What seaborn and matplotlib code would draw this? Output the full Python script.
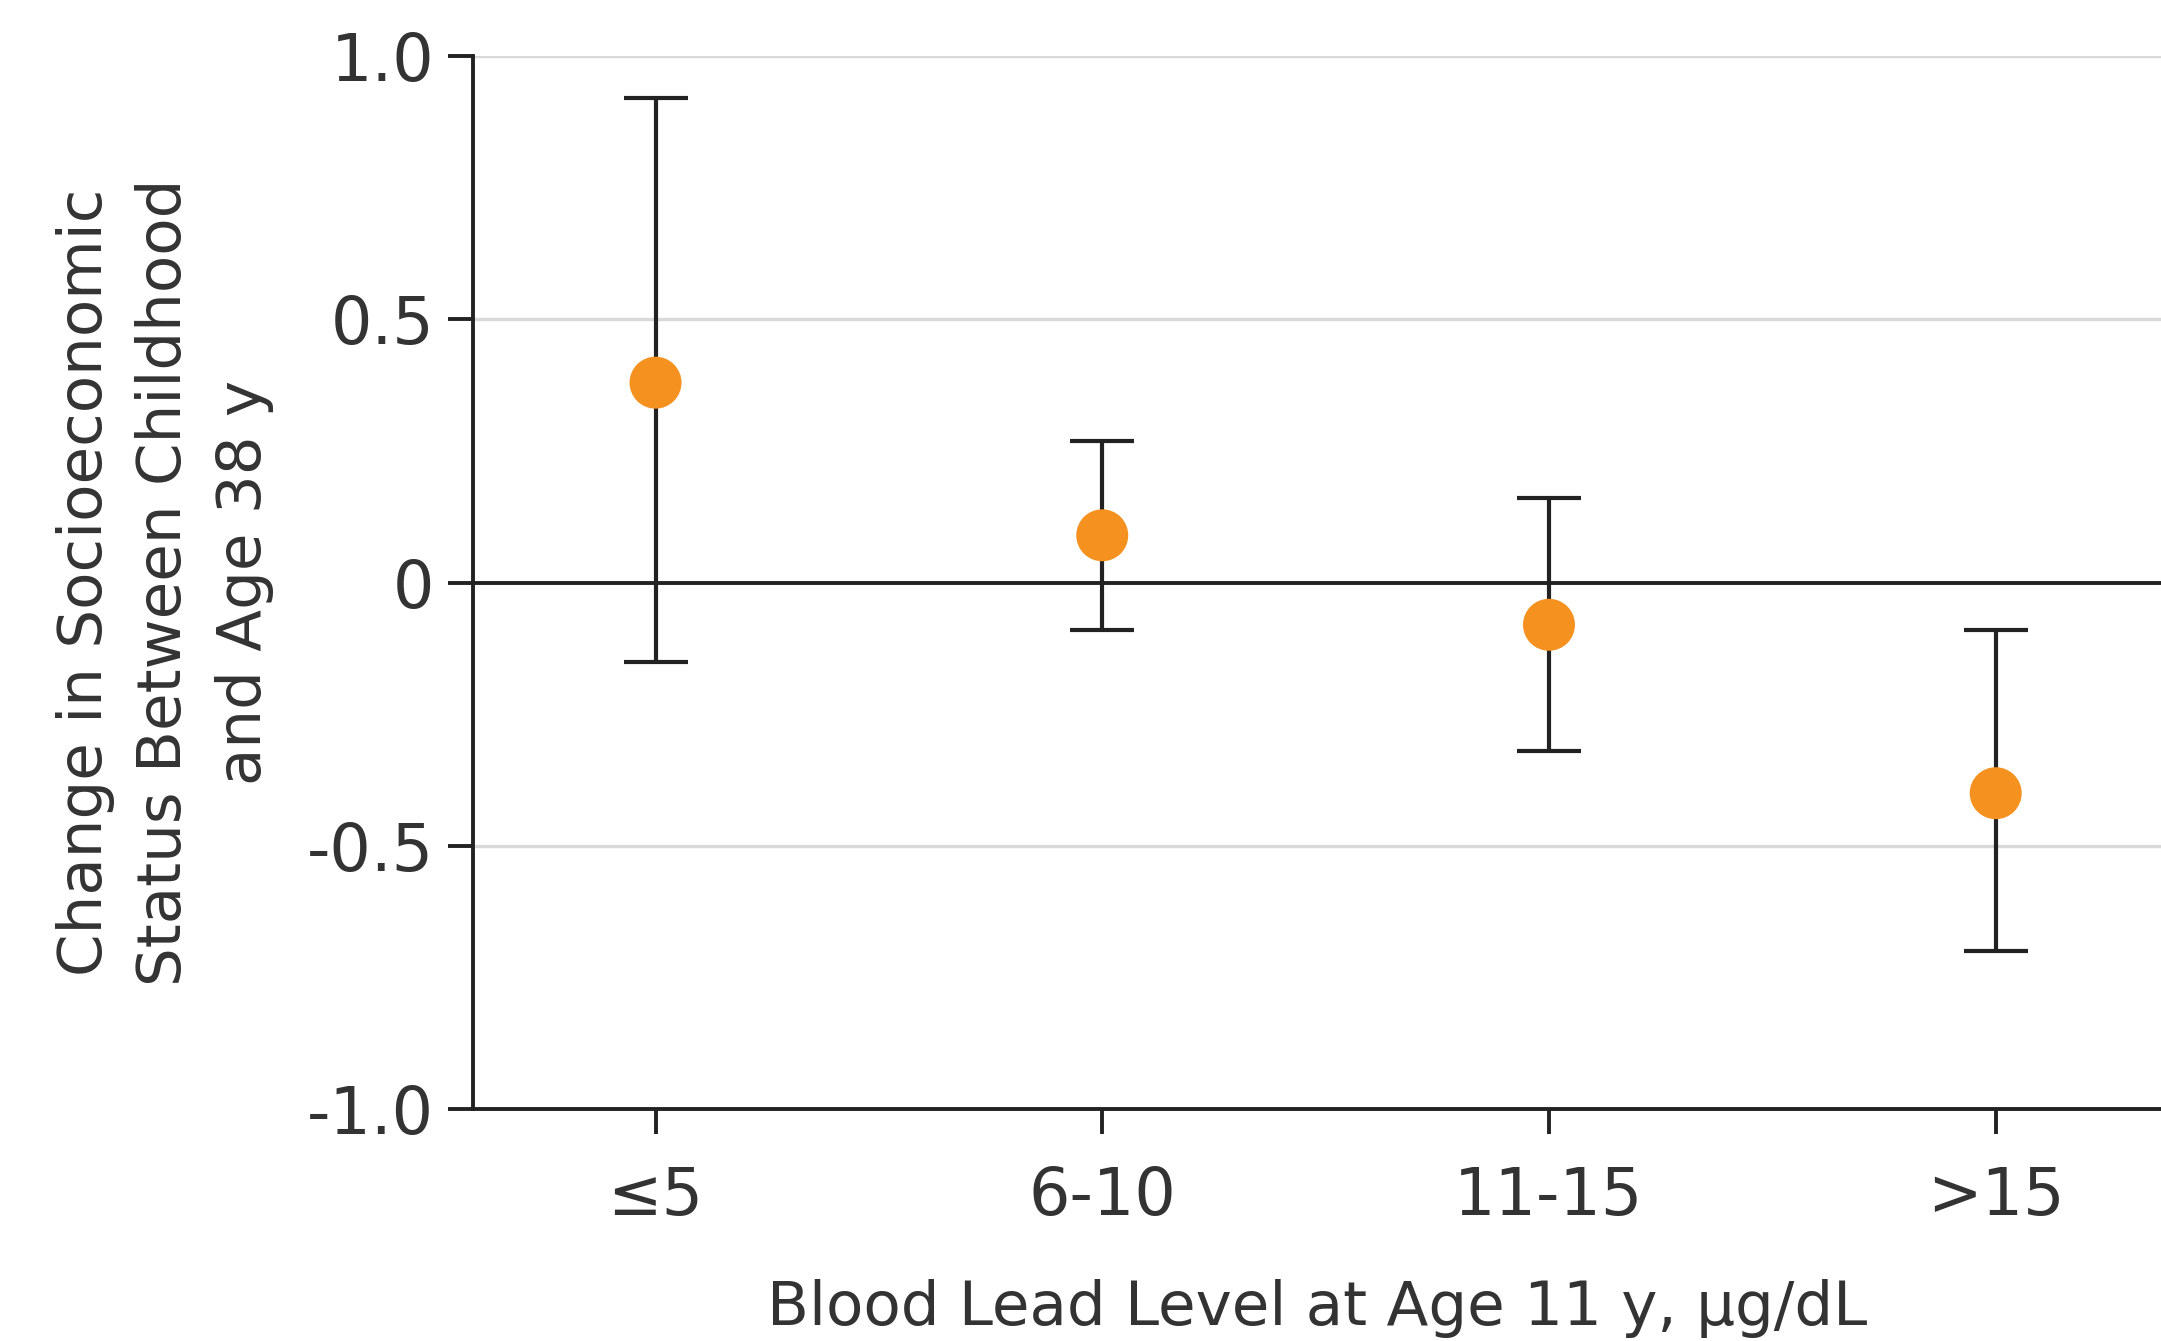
import numpy as np
import pandas as pd
import matplotlib
matplotlib.use("Agg")
import matplotlib.pyplot as plt
import seaborn as sns

# data
categories = ["≤5", "6-10", "11-15", ">15"]
estimates = [0.38, 0.09, -0.08, -0.40]
ci_lower = [-0.15, -0.09, -0.32, -0.70]
ci_upper = [0.92, 0.27, 0.16, -0.09]

df = pd.DataFrame({"level": categories, "change": estimates,
                   "lo": ci_lower, "hi": ci_upper})

sns.set_theme(style="white")
plt.rcParams['font.family'] = ['DejaVu Sans']

fig = plt.figure(figsize=(21.61, 13.41), dpi=100)
ax = fig.add_axes([0.219, 0.173, 0.781, 0.785])

orange = "#F5911E"
dark = "#222222"

# grid and zero line
for yv in [0.5, 1.0, -0.5]:
    ax.axhline(yv, color="#d9d9d9", lw=2.4, zorder=0)
ax.axhline(0, color=dark, lw=2.8, zorder=1)

x = np.arange(len(df))
ax.errorbar(x, df["change"],
            yerr=[df["change"] - df["lo"], df["hi"] - df["change"]],
            fmt="none", ecolor=dark, elinewidth=3.0, capsize=23, capthick=3.0, zorder=2)
sns.scatterplot(data=df, x="level", y="change", ax=ax, s=1400, color=orange,
                edgecolor="none", zorder=3)

ax.set_xlim(-0.408, 3.37)
ax.set_ylim(-1.0, 1.0)
ax.set_yticks([-1.0, -0.5, 0, 0.5, 1.0])
ax.set_yticklabels(["-1.0", "-0.5", "0", "0.5", "1.0"])
ax.set_xticks(x)
ax.set_xticklabels(categories)

for side in ["top", "right"]:
    ax.spines[side].set_visible(False)
for side in ["left", "bottom"]:
    ax.spines[side].set_color(dark)
    ax.spines[side].set_linewidth(2.8)

ax.tick_params(axis="both", direction="out", length=18, width=2.8, color=dark,
               labelsize=47, labelcolor="#333333", pad=10, left=True, bottom=True)
ax.tick_params(axis="x", pad=22)

ax.set_xlabel("Blood Lead Level at Age 11 y, µg/dL", fontsize=44, color="#333333", labelpad=36)
ax.set_ylabel("Change in Socioeconomic\nStatus Between Childhood\nand Age 38 y",
              fontsize=44, color="#333333", labelpad=24, linespacing=1.45)

fig.savefig("out.png", dpi=100)
